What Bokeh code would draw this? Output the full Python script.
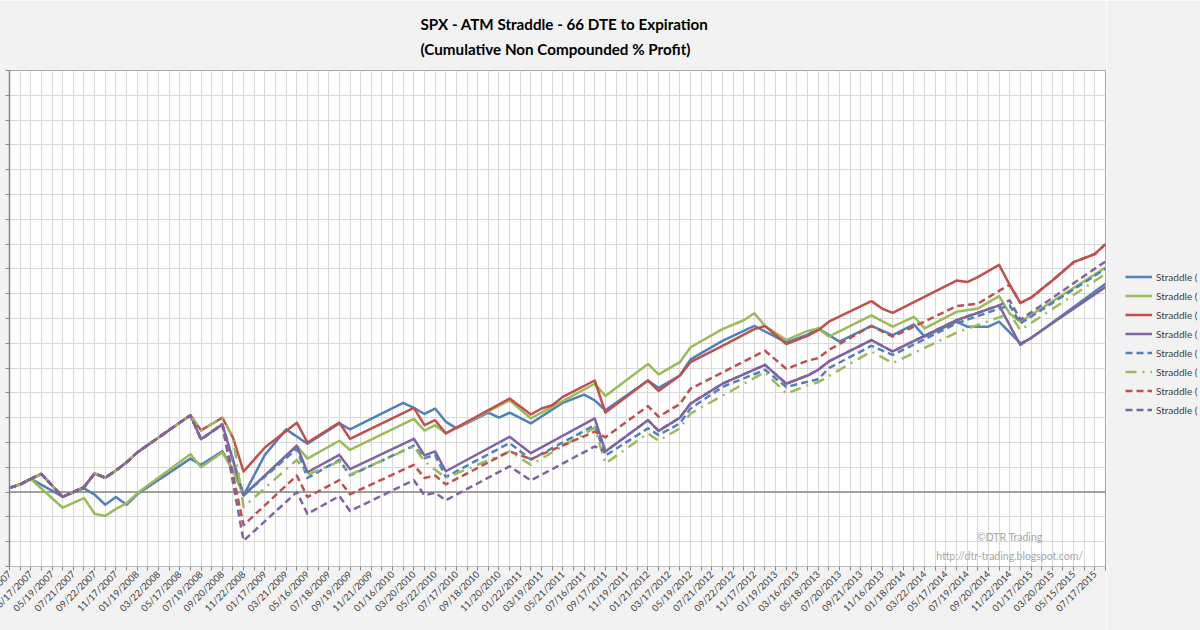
import math
from bokeh.plotting import figure
from bokeh.layouts import row
from bokeh.models import (Range1d, FixedTicker, Span, Legend, LegendItem, Label)
from bokeh.embed import file_html
from bokeh.resources import INLINE

# ---------------- data ----------------
n_categories = 104  # monthly expirations 01/2007 .. 08/2015
tick_labels = [
    "01/20/2007", "03/17/2007", "05/19/2007", "07/21/2007", "09/22/2007", "11/17/2007",
    "01/19/2008", "03/22/2008", "05/17/2008", "07/19/2008", "09/20/2008", "11/22/2008",
    "01/17/2009", "03/21/2009", "05/16/2009", "07/18/2009", "09/19/2009", "11/21/2009",
    "01/16/2010", "03/20/2010", "05/22/2010", "07/17/2010", "09/18/2010", "11/20/2010",
    "01/22/2011", "03/19/2011", "05/21/2011", "07/16/2011", "09/17/2011", "11/19/2011",
    "01/21/2012", "03/17/2012", "05/19/2012", "07/21/2012", "09/22/2012", "11/17/2012",
    "01/19/2013", "03/16/2013", "05/18/2013", "07/20/2013", "09/21/2013", "11/16/2013",
    "01/18/2014", "03/22/2014", "05/17/2014", "07/19/2014", "09/20/2014", "11/22/2014",
    "01/17/2015", "03/20/2015", "05/15/2015", "07/17/2015",
]

blue_solid_x = [0, 1, 2, 5, 7, 8, 9, 10, 11, 12, 17, 18, 20, 21, 22, 24, 26, 28, 31, 32, 37, 38, 39, 40,
                41, 42, 45, 46, 47, 49, 52, 54, 55, 56, 60, 61, 63, 64, 67, 70, 73, 75, 76, 78, 81, 83,
                85, 86, 89, 90, 92, 93, 95, 96, 103]
blue_solid_y = [1.7, 3.1, 5.3, -1.8, 1.5, -1.0, -5.1, -2.0, -5.1, -0.9, 13.5, 11, 16.5, 9, -1.3, 15, 25.3,
                19.5, 27.7, 25.3, 36, 34, 31.5, 33.7, 28.4, 25.7, 32, 30, 32, 27.7, 36, 39.3, 37, 33, 45,
                42, 47, 53.5, 61, 67, 60.4, 63.5, 66, 60.7, 67, 63.3, 67.6, 62.7, 68.7, 66.7, 66.7, 68.7,
                60, 62, 84]

green_solid_x = [0, 1, 2, 5, 7, 8, 9, 10, 11, 12, 17, 18, 20, 21, 22, 27, 28, 31, 32, 38, 39, 40, 41, 47,
                 49, 55, 56, 60, 61, 63, 64, 67, 69, 70, 71, 73, 75, 76, 77, 81, 83, 85, 86, 89, 91, 93,
                 94, 95, 103]
green_solid_y = [1.7, 3.1, 5.3, -6.3, -2.4, -8.7, -9.6, -6.8, -4.5, -0.5, 15.3, 10, 16, 8.7, -1.3, 18.7,
                 13.5, 20.7, 17, 29.5, 24.8, 27, 23.7, 37, 29.7, 43.7, 38.8, 51.7, 47.5, 52.4, 58.4, 65.7,
                 69.3, 72.1, 67, 61.3, 65, 66, 62.7, 71.3, 66.7, 70.7, 66, 72.7, 74, 79, 72, 68.7, 90.5]

red_solid_x = [0, 1, 2, 3, 5, 7, 8, 9, 10, 11, 12, 17, 18, 20, 21, 22, 24, 27, 28, 31, 32, 38, 39, 40, 41,
               47, 49, 50, 51, 52, 55, 56, 60, 61, 63, 64, 67, 70, 71, 73, 75, 76, 77, 81, 82, 83, 89, 90,
               91, 93, 94, 95, 96, 98, 100, 102, 103]
red_solid_y = [1.7, 3.1, 5.3, 7.3, -1.9, 2.0, 7.5, 5.8, 8.7, 12, 16, 31, 24.9, 30, 22, 8.3, 18, 28, 20, 28,
               21.5, 34, 27, 29, 23.7, 37.7, 31.3, 33.7, 35, 38.4, 45, 32.1, 45, 40.8, 47, 52.4, 59, 65.7,
               67, 59.7, 63, 65.3, 68.7, 77, 74, 72.3, 85.3, 84.7, 86.7, 91.6, 83.5, 76.3, 78.4, 85.3,
               92.7, 96, 100]

purple_solid_x = [0, 1, 2, 3, 5, 7, 8, 9, 10, 11, 12, 17, 18, 20, 22, 27, 28, 31, 32, 38, 39, 40, 41, 47,
                  49, 55, 56, 60, 61, 63, 64, 67, 71, 73, 75, 76, 77, 81, 83, 89, 93, 95, 103]
purple_solid_y = [1.7, 3.1, 5.3, 7.3, -1.9, 2.0, 7.5, 5.8, 8.7, 12, 16, 31, 21.3, 27.3, -1.3, 18.7, 8, 15,
                  9.3, 21.5, 14.8, 16.4, 8.4, 22.3, 15.7, 29.7, 16.4, 29, 24.7, 30, 35.7, 43.7, 51.3,
                  43.7, 47, 49.3, 52.7, 61.3, 56.7, 69.3, 75.3, 59.3, 82.7]

blue_dash_x = [0, 1, 2, 3, 5, 7, 8, 9, 10, 11, 12, 17, 18, 20, 22, 27, 28, 31, 32, 38, 39, 40, 41, 47, 49,
               55, 56, 60, 61, 63, 64, 67, 71, 73, 75, 76, 77, 81, 83, 89, 93, 94, 95, 103]
blue_dash_y = [1.7, 3.1, 5.3, 7.3, -1.9, 2.0, 7.5, 5.8, 8.7, 12, 16, 31, 21.3, 27.3, -1.3, 17.5, 5.7, 13,
               6.7, 18.7, 13.7, 15, 6.1, 19.8, 13.1, 27, 14.7, 25.7, 23, 27.7, 33.7, 42.4, 49.3, 42.4,
               44.5, 45.5, 50, 59, 55.3, 68, 74, 75.3, 68, 90]

green_dash_x = [0, 1, 2, 3, 5, 7, 8, 9, 10, 11, 12, 17, 18, 20, 21, 22, 27, 28, 31, 32, 38, 39, 41, 47, 49,
                55, 56, 60, 61, 63, 64, 71, 73, 75, 76, 81, 83, 89, 94, 95, 103]
green_dash_y = [1.7, 3.1, 5.3, 7.3, -1.9, 2.0, 7.5, 5.8, 8.7, 12, 16, 31, 24.9, 30, 22, -6, 13, 7, 12.4, 7,
                18.4, 12.4, 5.7, 16.4, 11, 26, 11.5, 23.7, 20.7, 25.7, 31.7, 48.4, 39.7, 43, 44.3, 56.7,
                52, 64.3, 72, 65.3, 88]

red_dash_x = [0, 1, 2, 3, 5, 7, 8, 9, 10, 11, 12, 17, 18, 20, 22, 27, 28, 31, 32, 38, 39, 40, 41, 47, 49,
              55, 56, 60, 61, 63, 64, 71, 73, 75, 76, 77, 81, 83, 89, 91, 94, 95, 96, 98, 100, 102, 103]
red_dash_y = [1.7, 3.1, 5.3, 7.3, -1.9, 2.0, 7.5, 5.8, 8.7, 12, 16, 31, 21.3, 27.3, -13.3, 6.7, -2, 4.8,
              -0.9, 11, 5.7, 6.7, 3.1, 16.4, 13.3, 24.4, 22.1, 34.7, 30.4, 35.5, 41.7, 57, 49.7, 53, 54,
              57.3, 67, 62.7, 75, 76, 83.7, 76.3, 78.4, 85.3, 92.7, 96, 100]

purple_dash_x = [0, 1, 2, 3, 5, 7, 8, 9, 10, 11, 12, 17, 18, 20, 22, 27, 28, 31, 32, 38, 39, 40, 41, 47,
                 49, 55, 56, 60, 61, 63, 64, 67, 71, 73, 75, 76, 77, 81, 83, 89, 93, 94, 95, 103]
purple_dash_y = [1.7, 3.1, 5.3, 7.3, -1.9, 2.0, 7.5, 5.8, 8.7, 12, 16, 31, 21.3, 27.3, -19.6, 0, -8.8,
                 -1.6, -7.6, 4.8, -1.3, -0.3, -3.3, 10.4, 4.7, 18.4, 16.4, 29, 24.7, 30, 35.7, 43.7, 51.3,
                 43.7, 47, 49.3, 52.7, 61.3, 56.7, 69.3, 75.3, 77.3, 69.5, 93]

legend_labels = ["Straddle (", "Straddle (", "Straddle (", "Straddle (",
                 "Straddle (", "Straddle (", "Straddle (", "Straddle ("]
y_ticks = list(range(-30, 171, 10))

# ---------------- main chart ----------------
BLUE, GREEN, RED, PURPLE = "#4F81BD", "#9BBB59", "#C0504D", "#8064A2"
BG = "#f2f2f2"
LEFT_BLEED = 40   # the chart's left edge lies outside the window, as in the original crop

p = figure(width=1106 + LEFT_BLEED, height=630, output_backend="svg", toolbar_location=None,
           x_range=Range1d(0, n_categories - 1), y_range=Range1d(y_ticks[0], y_ticks[-1]),
           min_border_left=9 + LEFT_BLEED, min_border_right=1, min_border_top=69, min_border_bottom=64,
           background_fill_color="white", border_fill_color=BG,
           outline_line_color="#a6a6a6", outline_line_width=1)

p.title.text = "SPX - ATM Straddle - 66 DTE to Expiration\n(Cumulative Non Compounded % Profit)"
p.title.text_font = "Lato"
p.title.text_font_size = "15.2px"
p.title.text_font_style = "bold"
p.title.text_color = "black"
p.title.text_line_height = 1.38
p.title.align = "left"
p.title.offset = 411
p.title.standoff = 25

# y axis: ticks only (its labels lie outside the picture)
p.yaxis.ticker = FixedTicker(ticks=y_ticks)
p.yaxis.major_label_overrides = {t: "" for t in y_ticks}
p.yaxis.major_label_text_font_size = "1px"
p.yaxis.major_label_standoff = 0
p.yaxis.major_tick_in = 0
p.yaxis.major_tick_out = 4
p.yaxis.minor_tick_line_color = None
p.yaxis.major_tick_line_color = "#868686"
p.yaxis.axis_line_color = "#868686"
p.yaxis.axis_line_width = 1.5
p.ygrid.grid_line_color = "#d9d9d9"

label_pos = list(range(0, n_categories, 2))
minor_pos = list(range(1, n_categories, 2))
p.xaxis.ticker = FixedTicker(ticks=label_pos, minor_ticks=minor_pos)
p.xaxis.major_label_overrides = {pos: lab for pos, lab in zip(label_pos, tick_labels)}
p.xaxis.major_label_orientation = math.pi / 4
p.xaxis.major_label_text_font = "Lato"
p.xaxis.major_label_text_font_size = "9.5px"
p.xaxis.major_label_text_color = "#404040"
p.xaxis.major_label_standoff = 2
p.xaxis.major_tick_in = 0
p.xaxis.major_tick_out = 4
p.xaxis.minor_tick_in = 0
p.xaxis.minor_tick_out = 4
p.xaxis.major_tick_line_color = "#868686"
p.xaxis.minor_tick_line_color = "#868686"
p.xaxis.axis_line_color = "#bfbfbf"
p.xgrid.grid_line_color = "#d9d9d9"
p.xgrid.minor_grid_line_color = "#d9d9d9"

p.add_layout(Span(location=0, dimension="width", line_color="#868686", line_width=1.5, level="underlay"))

series = [
    (blue_solid_x, blue_solid_y, BLUE, "solid"),
    (green_solid_x, green_solid_y, GREEN, "solid"),
    (red_solid_x, red_solid_y, RED, "solid"),
    (purple_solid_x, purple_solid_y, PURPLE, "solid"),
    (blue_dash_x, blue_dash_y, BLUE, "7 4"),
    (green_dash_x, green_dash_y, GREEN, "11 6 2 6"),
    (red_dash_x, red_dash_y, RED, "7 4"),
    (purple_dash_x, purple_dash_y, PURPLE, "7 4"),
]
for xs, ys, col, dash in series:
    p.line(xs, ys, line_color=col, line_width=2.5, line_dash=dash, line_join="round")

p.add_layout(Label(x=94, y=-18.2, text="©DTR Trading", text_align="center", text_baseline="middle",
                   text_font="Lato", text_font_size="10.5px", text_color="#a6a6a6"))
p.add_layout(Label(x=94, y=-25.9, text="http://dtr-trading.blogspot.com/", text_align="center",
                   text_baseline="middle", text_font="Lato", text_font_size="10.5px",
                   text_color="#a6a6a6"))

# ---------------- legend strip (right of the plot area) ----------------
q = figure(width=94, height=630, output_backend="svg", toolbar_location=None, title=None,
           x_range=Range1d(0, 1), y_range=Range1d(0, 1),
           x_axis_location=None, y_axis_location=None, min_border=0,
           background_fill_color=BG, border_fill_color=BG, outline_line_color=None)
q.xgrid.visible = False
q.ygrid.visible = False
items = []
for (xs, ys, col, dash), lab in zip(series, legend_labels):
    # legend-only renderer: its one segment lies outside the strip's ranges
    r = q.line([5, 6], [5, 6], line_color=col, line_width=2.5, line_dash=dash)
    items.append(LegendItem(label=lab, renderers=[r]))
legend = Legend(items=items, location=(19, 148), orientation="vertical",
                glyph_width=27, glyph_height=17, label_height=17, spacing=2, label_standoff=4,
                padding=0, margin=0, border_line_color=None, background_fill_alpha=0,
                label_text_font="Lato", label_text_font_size="10px", label_text_color="#404040")
q.add_layout(legend, "center")

layout = row(p, q, spacing=0, styles={"margin-left": f"-{LEFT_BLEED}px"})
open("out.html", "w").write(file_html(layout, INLINE))
